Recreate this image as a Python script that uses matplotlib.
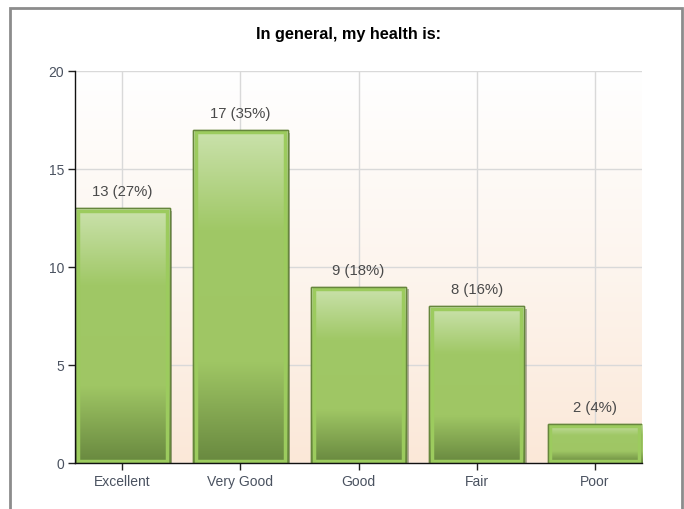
import matplotlib.pyplot as plt
import numpy as np
from matplotlib.colors import LinearSegmentedColormap
from matplotlib.patches import Rectangle
import matplotlib.patheffects as pe

plt.rcParams['font.family'] = ['Liberation Sans', 'DejaVu Sans']

categories = ['Excellent', 'Very Good', 'Good', 'Fair', 'Poor']
counts = [13, 17, 9, 8, 2]
percents = ['27%', '35%', '18%', '16%', '4%']
yticks = [0, 5, 10, 15, 20]

fig = plt.figure(figsize=(6.84, 5.10), dpi=100)
ax = fig.add_axes([75 / 684, 46 / 510, 567 / 684, 392 / 510])

# outer frame (bottom edge cut off like the screenshot)
fig.patches.append(Rectangle((10 / 684, -0.1), 672 / 684, 1.1 - 9 / 510,
                             transform=fig.transFigure, fill=False,
                             edgecolor='#8c8c8c', linewidth=2))

# background gradient white -> peach
bg = LinearSegmentedColormap.from_list('bg', ['#fbe8d8', '#fdf5ee', '#ffffff'])
ax.imshow(np.linspace(0, 1, 256).reshape(-1, 1), cmap=bg, origin='lower',
          extent=[0, 1, 0, 1], transform=ax.transAxes, aspect='auto', zorder=0)

width = 0.8
x = np.arange(len(categories))
ax.set_xlim(-width / 2, len(categories) - 1 + width / 2)
ax.set_ylim(0, 20)

ax.set_axisbelow(True)
ax.grid(True, color='#d9d9d9', linewidth=1, zorder=0.5)

bar_cmap = LinearSegmentedColormap.from_list(
    'bar', [(0, '#68883f'), (0.3, '#9fc664'), (0.7, '#a0c866'), (1, '#cbe2ad')])
grad = np.linspace(0, 1, 256).reshape(-1, 1)

bars = ax.bar(x, counts, width=width, facecolor='#9fc664', edgecolor='#66863c',
              linewidth=1, zorder=2,
              path_effects=[pe.SimplePatchShadow(offset=(2, -2), alpha=0.35),
                            pe.Normal()])

for b, v, p in zip(bars, counts, percents):
    x0 = b.get_x()
    w = b.get_width()
    im = ax.imshow(grad, cmap=bar_cmap, origin='lower', aspect='auto',
                   extent=[x0, x0 + w, 0, v], zorder=2.5)
    im.set_clip_path(b)
    # light inner border
    dx = 2.5 / 118
    dy = 2.5 / 19.6
    ax.add_patch(Rectangle((x0 + dx, dy), w - 2 * dx, v - 2 * dy, fill=False,
                           edgecolor='#9ccb5e', linewidth=2.5, zorder=3))
    ax.add_patch(Rectangle((x0, 0), w, v, fill=False,
                           edgecolor='#66863c', linewidth=1, zorder=3.5))
    ax.annotate(f'{v} ({p})', (b.get_x() + w / 2, v), xytext=(0, 7),
                textcoords='offset points', ha='center', va='bottom',
                fontsize=10.7, color='#4a4a4a')

ax.set_xticks(x)
ax.set_xticklabels(categories)
ax.set_yticks(yticks)
ax.tick_params(axis='both', direction='out', length=5, width=1,
               color='#222222', labelsize=10, labelcolor='#4a5260')
ax.tick_params(axis='y', pad=3)
ax.tick_params(axis='x', pad=3)

for s in ['top', 'right']:
    ax.spines[s].set_visible(False)
for s in ['left', 'bottom']:
    ax.spines[s].set_color('#111111')
    ax.spines[s].set_linewidth(1)
    ax.spines[s].set_zorder(4)

fig.text(348 / 684, 1 - 35 / 510, 'In general, my health is:', ha='center',
         va='center', fontsize=11.7, fontweight='bold', color='black')

plt.savefig('out.png', dpi=100)
